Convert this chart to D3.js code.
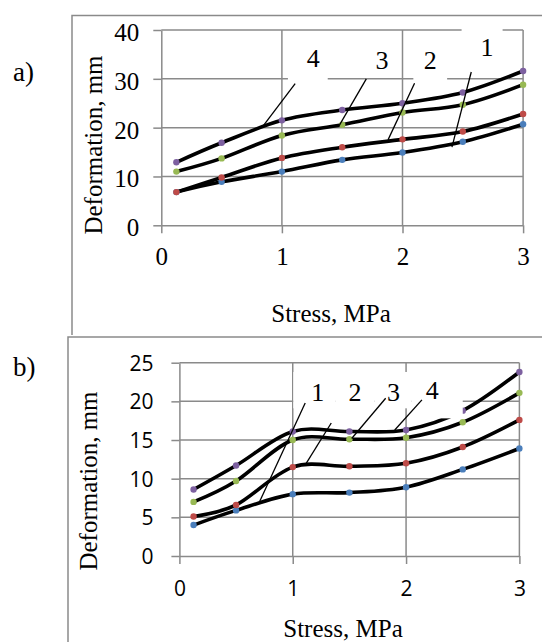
<!DOCTYPE html>
<html>
<head>
<meta charset="utf-8">
<script src="https://cdn.jsdelivr.net/npm/d3@7"></script>
<style>
  body { margin: 0; background: #fff; }
  svg { display: block; }
</style>
</head>
<body>
<div id="chart"></div>
<script>
// Stress values (MPa) shared by both panels
var stress = [0.125, 0.5, 1, 1.5, 2, 2.5, 3];
var xTicks = [0, 1, 2, 3];
var seriesNames = ["1", "2", "3", "4"];
var markerColors = ["#4a7ebb", "#be4b48", "#98b954", "#7d60a0"];

// panel a) deformation, mm
var defA1 = [6.8, 8.9, 11.0, 13.4, 14.9, 17.1, 20.7];
var defA2 = [6.8, 9.8, 13.8, 16.0, 17.6, 19.2, 22.8];
var defA3 = [11.0, 13.7, 18.4, 20.6, 23.1, 24.7, 28.8];
var defA4 = [12.9, 16.9, 21.5, 23.6, 25.0, 27.2, 31.6];
var yTicksA = [0, 10, 20, 30, 40];

// panel b) deformation, mm
var defB1 = [4.0, 5.9, 8.0, 8.2, 8.9, 11.2, 13.9];
var defB2 = [5.1, 6.6, 11.5, 11.6, 12.0, 14.1, 17.6];
var defB3 = [7.0, 9.7, 15.0, 15.1, 15.3, 17.3, 21.1];
var defB4 = [8.6, 11.7, 16.1, 16.1, 16.3, 18.8, 23.8];
var yTicksB = [0, 5, 10, 15, 20, 25];

// curve labels: text position and leader line end points, in data units
var labelsA = [
    {t: "4", x: 1.26, y: 34.2, lx1: 1.11, ly1: 29.0, lx2: 0.84, ly2: 20.2},
    {t: "3", x: 1.83, y: 33.9, lx1: 1.70, ly1: 30.0, lx2: 1.47, ly2: 20.2},
    {t: "2", x: 2.23, y: 33.9, lx1: 2.10, ly1: 29.1, lx2: 1.88, ly2: 17.5},
    {t: "1", x: 2.70, y: 36.6, lx1: 2.57, ly1: 31.4, lx2: 2.41, ly2: 16.0}
];
// white boxes behind the labels (x0, x1, yTop, yBottom)
var boxesA = [
    [1.05, 1.38, 37.5, 29.4],
    [1.69, 1.96, 37.1, 30.6],
    [2.09, 2.37, 37.0, 29.4],
    [2.49, 2.83, 41.7, 31.8]
];
var labelsB = [
    {t: "1", x: 1.22, y: 21.2, lx1: 1.11, ly1: 19.8, lx2: 0.70, ly2: 6.8},
    {t: "2", x: 1.55, y: 21.2, lx1: 1.34, ly1: 17.2, lx2: 1.12, ly2: 12.0},
    {t: "3", x: 1.89, y: 21.2, lx1: 1.82, ly1: 20.4, lx2: 1.52, ly2: 15.2},
    {t: "4", x: 2.23, y: 21.5, lx1: 2.14, ly1: 20.2, lx2: 1.90, ly2: 16.3}
];
var boxesB = [
    [1.005, 1.38, 23.8, 19.1],
    [1.38, 1.72, 23.8, 19.1],
    [1.72, 2.05, 23.8, 19.1],
    [2.05, 2.50, 23.8, 17.8]
];

var W = 542, H = 642;
var gridColor = "#8a8a8a";
var serif = "'Liberation Serif', 'Times New Roman', serif";
var sans = "'Open Sans', 'Noto Sans', sans-serif";

var svg = d3.select("#chart").append("svg")
    .attr("width", W)
    .attr("height", H);

// frames of the two pasted charts
svg.append("path")
    .attr("d", "M72,335V15.5H542")
    .attr("fill", "none").attr("stroke", gridColor).attr("stroke-width", 1.5);
svg.append("path")
    .attr("d", "M68,642V337H542")
    .attr("fill", "none").attr("stroke", gridColor).attr("stroke-width", 1.5);

function drawPanel(cfg) {
    var x = d3.scaleLinear().domain([0, 3]).range(cfg.xRange);
    var y = d3.scaleLinear().domain([0, cfg.yMax]).range(cfg.yRange);
    var g = svg.append("g");

    // gridlines
    g.selectAll(".hgrid").data(cfg.yTicks.slice(1)).enter().append("line")
        .attr("x1", x(0)).attr("x2", x(3))
        .attr("y1", function(d) { return y(d); })
        .attr("y2", function(d) { return y(d); })
        .attr("stroke", gridColor).attr("stroke-width", 1.5);
    g.selectAll(".vgrid").data(xTicks.slice(1)).enter().append("line")
        .attr("x1", function(d) { return x(d); })
        .attr("x2", function(d) { return x(d); })
        .attr("y1", y(0)).attr("y2", y(cfg.yMax))
        .attr("stroke", gridColor).attr("stroke-width", 1.5);

    // axes
    var yAxis = g.append("g")
        .attr("transform", "translate(" + x(0) + ",0)")
        .call(d3.axisLeft(y).tickValues(cfg.yTicks).tickSize(8).tickSizeOuter(0)
            .tickPadding(cfg.yPad));
    var xAxis = g.append("g")
        .attr("transform", "translate(0," + y(0) + ")")
        .call(d3.axisBottom(x).tickValues(xTicks).tickSize(8).tickSizeOuter(0)
            .tickPadding(cfg.xPad).tickFormat(d3.format("d")));
    [yAxis, xAxis].forEach(function(a) {
        a.select(".domain").attr("stroke", gridColor).attr("stroke-width", 1.5);
        a.selectAll(".tick line").attr("stroke", gridColor).attr("stroke-width", 1.5);
        a.selectAll("text")
            .attr("fill", "#000")
            .style("font-family", cfg.tickFont)
            .style("font-size", cfg.tickSize + "px");
    });
    yAxis.selectAll("text").attr("dy", cfg.yDy);

    // curves
    var line = d3.line()
        .x(function(d) { return x(d[0]); })
        .y(function(d) { return y(d[1]); })
        .curve(d3.curveCardinal.tension(0));
    cfg.series.forEach(function(vals, i) {
        var pts = stress.map(function(s, j) { return [s, vals[j]]; });
        g.append("path")
            .attr("d", line(pts))
            .attr("fill", "none")
            .attr("stroke", "#000")
            .attr("stroke-width", 3.6)
            .attr("stroke-linejoin", "round");
    });
    cfg.series.forEach(function(vals, i) {
        g.selectAll(".m" + i).data(vals).enter().append("circle")
            .attr("cx", function(d, j) { return x(stress[j]); })
            .attr("cy", function(d) { return y(d); })
            .attr("r", 3.2)
            .attr("fill", markerColors[i]);
    });

    // label boxes, leader lines, label text
    g.selectAll(".box").data(cfg.boxes).enter().append("rect")
        .attr("x", function(d) { return x(d[0]); })
        .attr("y", function(d) { return y(d[2]); })
        .attr("width", function(d) { return x(d[1]) - x(d[0]); })
        .attr("height", function(d) { return y(d[3]) - y(d[2]); })
        .attr("fill", "#fff");
    g.selectAll(".leader").data(cfg.labels).enter().append("line")
        .attr("x1", function(d) { return x(d.lx1); })
        .attr("y1", function(d) { return y(d.ly1); })
        .attr("x2", function(d) { return x(d.lx2); })
        .attr("y2", function(d) { return y(d.ly2); })
        .attr("stroke", "#000").attr("stroke-width", 1.3);
    g.selectAll(".lbl").data(cfg.labels).enter().append("text")
        .attr("x", function(d) { return x(d.x); })
        .attr("y", function(d) { return y(d.y); })
        .attr("dy", "0.35em")
        .attr("text-anchor", "middle")
        .style("font-family", serif)
        .style("font-size", "26px")
        .text(function(d) { return d.t; });

    // axis titles
    g.append("text")
        .attr("transform", "translate(" + cfg.yTitle[0] + "," + cfg.yTitle[1] + ")rotate(-90)")
        .attr("text-anchor", "middle")
        .style("font-family", serif)
        .style("font-size", "25px")
        .text("Deformation, mm");
    g.append("text")
        .attr("x", cfg.xTitle[0]).attr("y", cfg.xTitle[1])
        .attr("text-anchor", "middle")
        .style("font-family", serif)
        .style("font-size", "25px")
        .text("Stress, MPa");
    g.append("text")
        .attr("x", cfg.panel[0]).attr("y", cfg.panel[1])
        .style("font-family", serif)
        .style("font-size", "27px")
        .text(cfg.panelName);
}

drawPanel({
    xRange: [161.3, 523.1], yRange: [225.3, 30], yMax: 40,
    yTicks: yTicksA, series: [defA1, defA2, defA3, defA4],
    labels: labelsA, boxes: boxesA,
    tickFont: serif, tickSize: 25, yPad: 14, xPad: 14, yDy: "0.42em",
    yTitle: [102, 145], xTitle: [331, 322], panel: [13, 81], panelName: "a)"
});

drawPanel({
    xRange: [179.4, 519.4], yRange: [556, 362.7], yMax: 25,
    yTicks: yTicksB, series: [defB1, defB2, defB3, defB4],
    labels: labelsB, boxes: boxesB,
    tickFont: sans, tickSize: 21, yPad: 18, xPad: 17, yDy: "0.36em",
    yTitle: [97, 481], xTitle: [343, 637], panel: [13, 376], panelName: "b)"
});
</script>
</body>
</html>
